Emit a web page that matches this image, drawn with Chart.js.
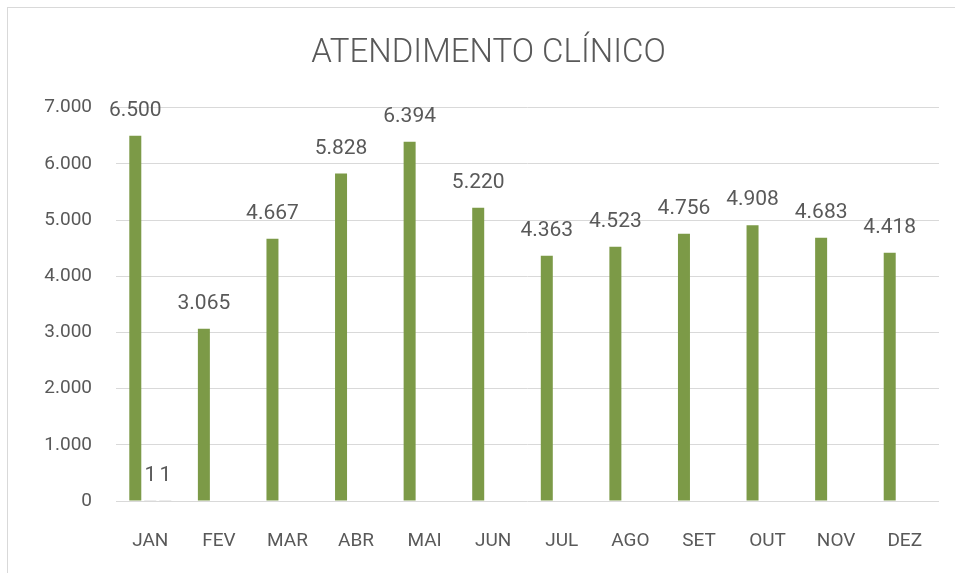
<!DOCTYPE html>
<html>
<head>
<meta charset="utf-8">
<script src="https://cdn.jsdelivr.net/npm/chart.js@4/dist/chart.umd.min.js"></script>
<style>
  html, body { margin: 0; padding: 0; background: #ffffff; width: 955px; height: 573px; overflow: hidden; }
  #frame { position: absolute; left: 7px; top: 7px; width: 1000px; height: 600px; border: 1px solid #d9d9d9; box-sizing: border-box; pointer-events: none; }
  #wrap { position: absolute; left: 0; top: 0; width: 977px; height: 573px; }
</style>
</head>
<body>
<div id="frame"></div>
<div id="wrap"><canvas id="c" width="977" height="573"></canvas></div>
<script>
const categories = ['JAN','FEV','MAR','ABR','MAI','JUN','JUL','AGO','SET','OUT','NOV','DEZ'];
const atendimentos = [6500, 3065, 4667, 5828, 6394, 5220, 4363, 4523, 4756, 4908, 4683, 4418];
const serieB = [1, null, null, null, null, null, null, null, null, null, null, null];
const serieC = [1, null, null, null, null, null, null, null, null, null, null, null];
const yTicks = [0, 1000, 2000, 3000, 4000, 5000, 6000, 7000];

const fmt = v => String(v).replace(/\B(?=(\d{3})+(?!\d))/g, '.');
const FONT = "Roboto, 'Open Sans', sans-serif";
const GRAY = '#595959';

const labelPlugin = {
  id: 'valueLabels',
  afterDatasetsDraw(chart) {
    const ctx = chart.ctx;
    ctx.save();
    ctx.font = '21px ' + FONT;
    ctx.fillStyle = GRAY;
    ctx.textAlign = 'center';
    ctx.textBaseline = 'middle';
    chart.data.datasets.forEach((ds, di) => {
      const meta = chart.getDatasetMeta(di);
      meta.data.forEach((bar, i) => {
        const v = ds.data[i];
        if (v === null || v === undefined) return;
        ctx.fillText(fmt(v), bar.x, bar.y - 25);
      });
    });
    ctx.restore();
  }
};

new Chart(document.getElementById('c'), {
  type: 'bar',
  data: {
    labels: categories,
    datasets: [
      { label: 'Atendimento', data: atendimentos, backgroundColor: '#7c9a47', barPercentage: 0.8, categoryPercentage: 0.656 },
      { label: 'B', data: serieB, backgroundColor: '#d9d9d9', barPercentage: 0.8, categoryPercentage: 0.656 },
      { label: 'C', data: serieC, backgroundColor: '#d9d9d9', barPercentage: 0.8, categoryPercentage: 0.656 }
    ]
  },
  options: {
    responsive: false,
    animation: false,
    layout: { padding: { left: 0, right: 0, top: 0, bottom: 0 } },
    plugins: {
      legend: { display: false },
      tooltip: { enabled: false },
      title: {
        display: true,
        text: 'ATENDIMENTO CLÍNICO',
        color: GRAY,
        font: { family: FONT, size: 33, weight: '300' },
        padding: { top: 34, bottom: 34 }
      }
    },
    scales: {
      x: {
        grid: { display: false, drawTicks: false },
        border: { display: false },
        ticks: { color: GRAY, font: { family: FONT, size: 19 }, padding: 29 },
        afterFit(s) { s.height = 72; }
      },
      y: {
        min: 0, max: 7000,
        afterBuildTicks(s) { s.ticks = yTicks.map(v => ({ value: v })); },
        grid: { color: '#d9d9d9', lineWidth: 1, drawTicks: false },
        border: { display: false },
        ticks: { color: GRAY, font: { family: FONT, size: 19 }, padding: 24, callback: v => fmt(v) },
        afterFit(s) { s.width = 116; }
      },
      yRight: {
        position: 'right',
        display: true,
        grid: { display: false, drawTicks: false },
        border: { display: false },
        ticks: { display: false },
        afterFit(s) { s.width = 38; }
      }
    }
  },
  plugins: [labelPlugin]
});
</script>
</body>
</html>
